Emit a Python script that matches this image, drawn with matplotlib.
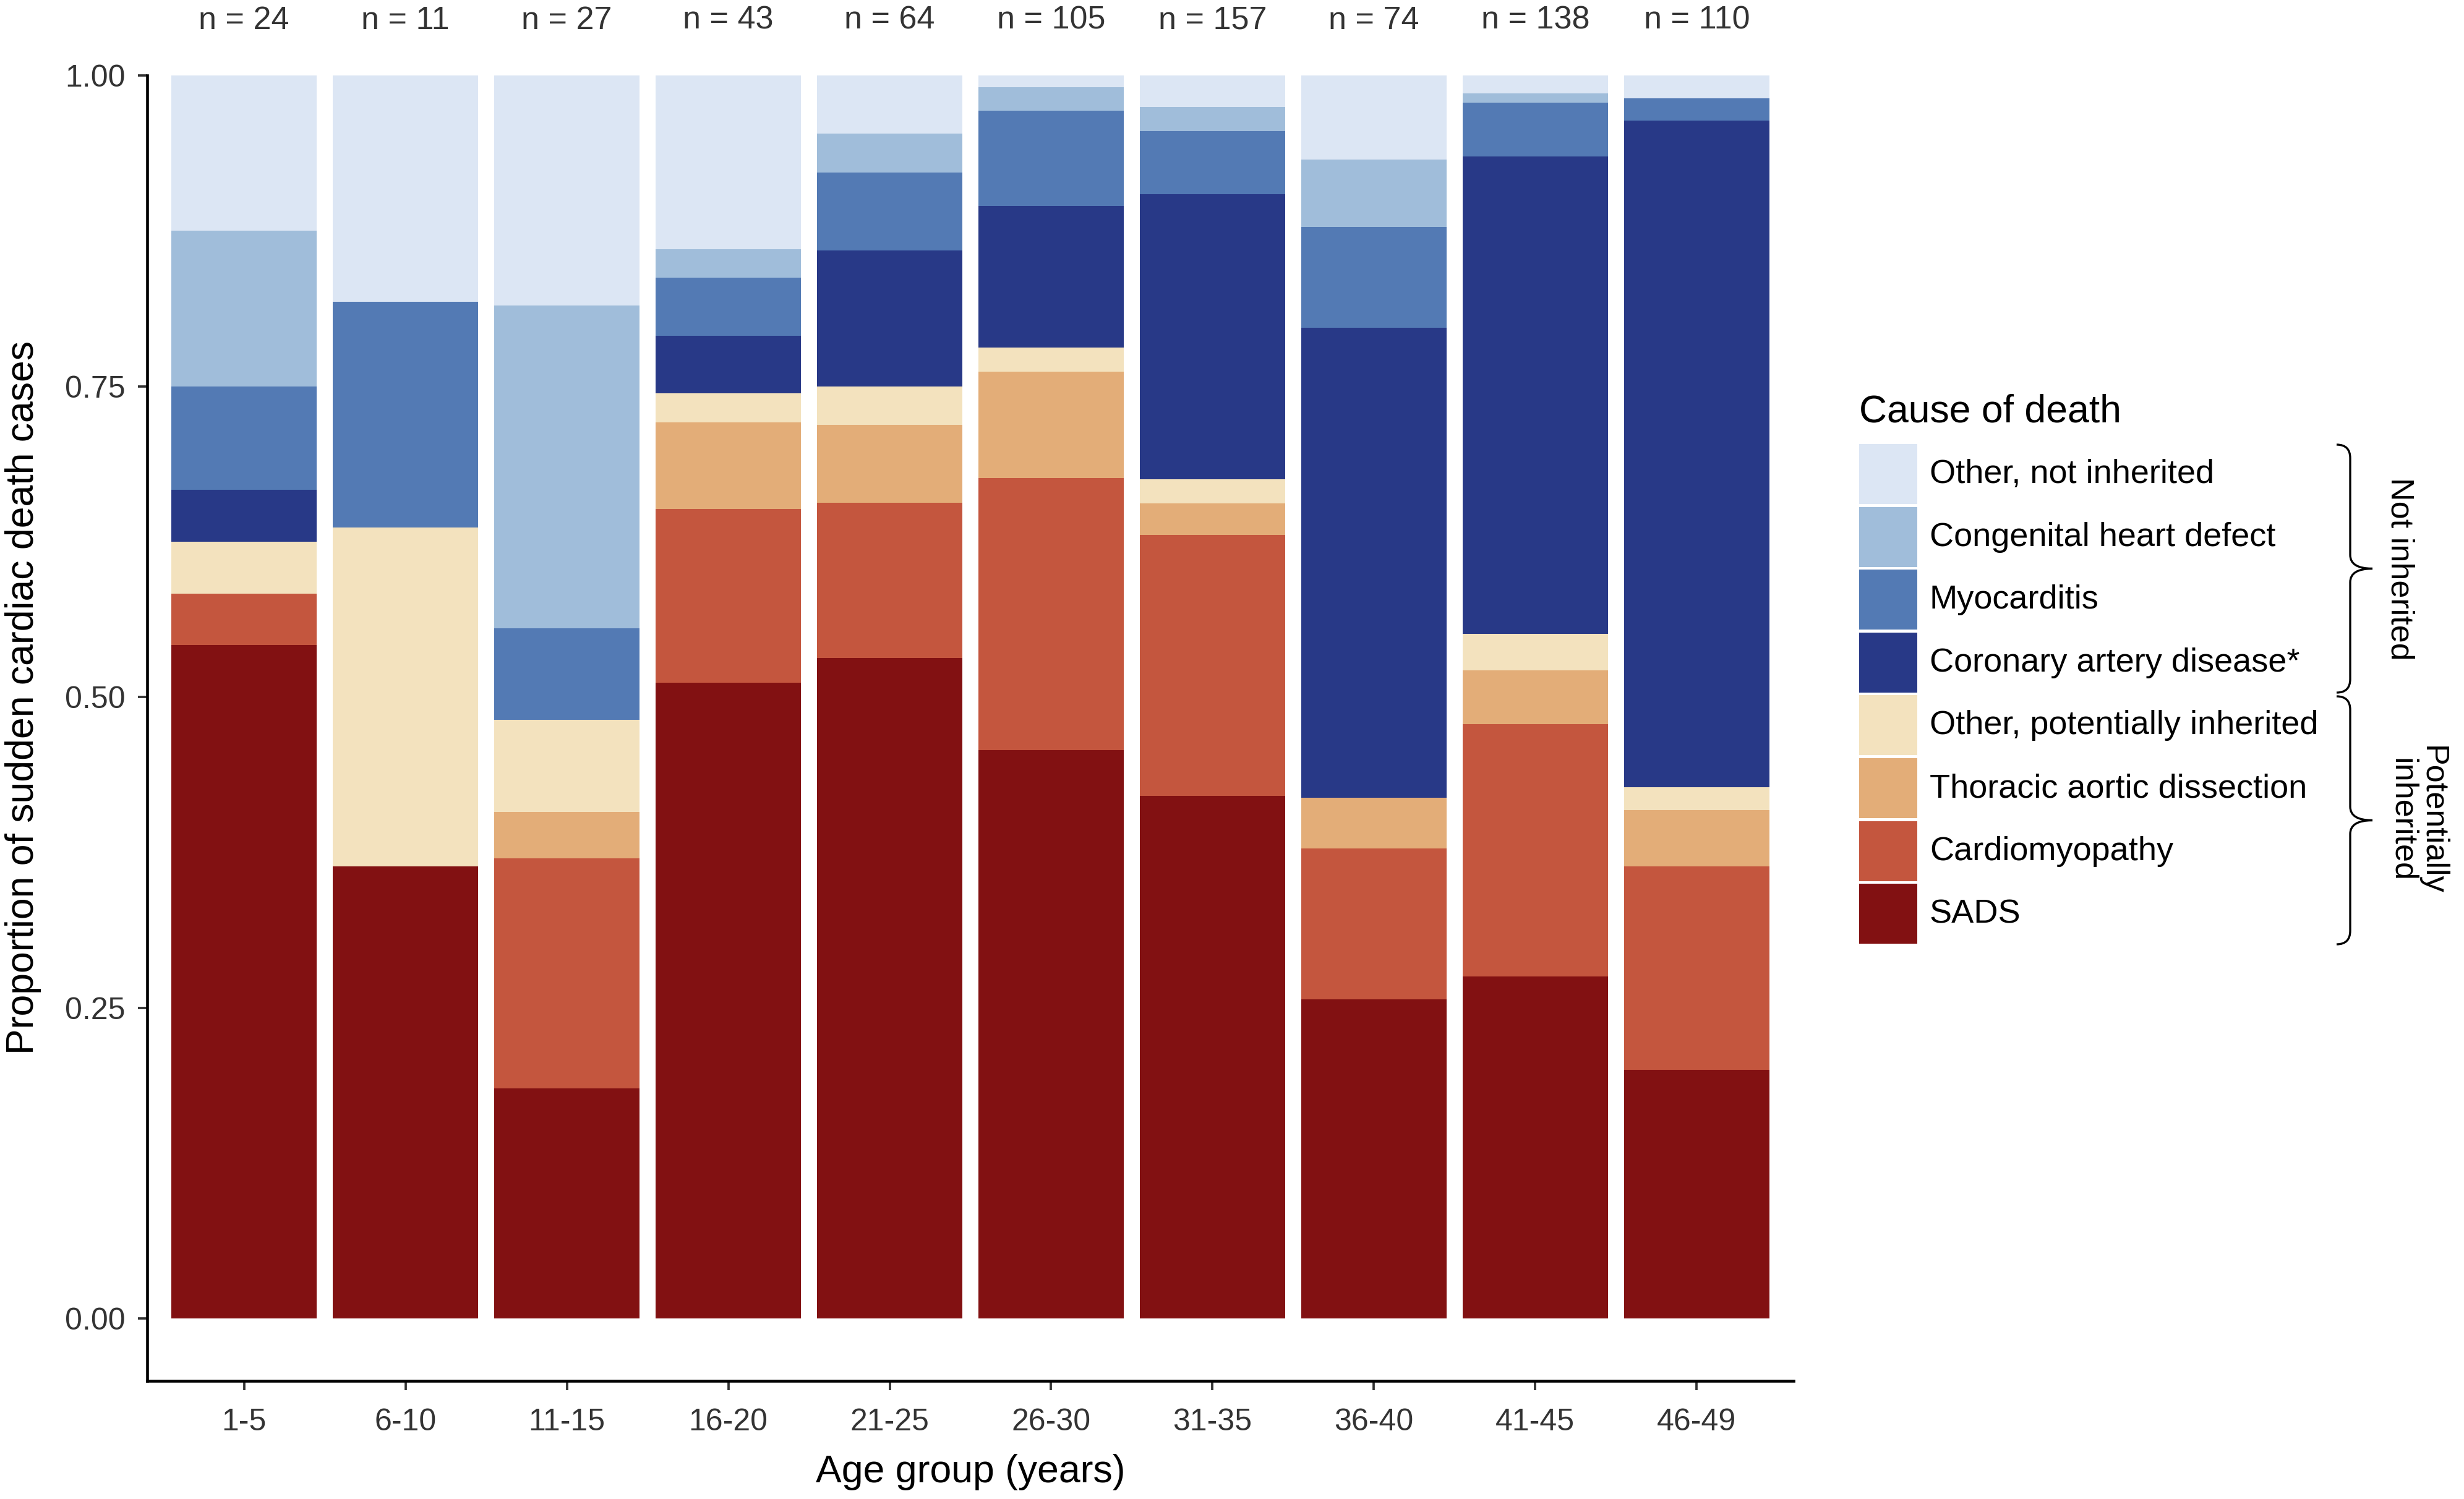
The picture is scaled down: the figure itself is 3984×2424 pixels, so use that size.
import matplotlib
matplotlib.use("Agg")
import matplotlib.pyplot as plt
import numpy as np
from matplotlib.patches import Rectangle, PathPatch
from matplotlib.path import Path

plt.rcParams['font.family'] = ['Liberation Sans', 'DejaVu Sans']

age_groups = ["1-5", "6-10", "11-15", "16-20", "21-25", "26-30", "31-35", "36-40", "41-45", "46-49"]
n_cases = [24, 11, 27, 43, 64, 105, 157, 74, 138, 110]

causes = ["SADS", "Cardiomyopathy", "Thoracic aortic dissection", "Other, potentially inherited",
          "Coronary artery disease*", "Myocarditis", "Congenital heart defect", "Other, not inherited"]
colors = ["#821112", "#C4563E", "#E3AD78", "#F3E2BE", "#283987", "#537AB4", "#A0BDDA", "#DCE6F4"]

sads          = [13, 4, 5, 22, 34, 48, 66, 19, 38, 22]
cardiomyo     = [1, 0, 5, 6, 8, 23, 33, 9, 28, 18]
thoracic      = [0, 0, 1, 3, 4, 9, 4, 3, 6, 5]
other_pot     = [1, 3, 2, 1, 2, 2, 3, 0, 4, 2]
cad           = [1, 0, 0, 2, 7, 12, 36, 28, 53, 59]
myocarditis   = [2, 2, 2, 2, 4, 8, 8, 6, 6, 2]
congenital    = [3, 0, 7, 1, 2, 2, 3, 4, 1, 0]
other_not     = [3, 2, 5, 6, 3, 1, 4, 5, 2, 2]

counts = np.array([sads, cardiomyo, thoracic, other_pot, cad, myocarditis, congenital, other_not], dtype=float)
props = counts / np.array(n_cases, dtype=float)

W, H = 3984, 2424
fig = plt.figure(figsize=(W / 300, H / 300), dpi=300)

def fx(px):
    return px / W

def fy(py):
    return 1 - py / H

ax = fig.add_axes([fx(238), fy(2233), fx(2900) - fx(238), fy(122) - fy(2233)])

x = np.arange(len(age_groups))
bottom = np.zeros(len(age_groups))
for i in range(len(causes)):
    ax.bar(x, props[i], bottom=bottom, width=0.9, color=colors[i], edgecolor='none', linewidth=0)
    bottom += props[i]

ax.set_xlim(-0.6, len(age_groups) - 0.4)
ax.set_ylim(-0.05, 1.0)
ax.set_yticks([0, 0.25, 0.5, 0.75, 1.0])
ax.set_yticklabels(["0.00", "0.25", "0.50", "0.75", "1.00"])
ax.set_xticks(x)
ax.set_xticklabels(age_groups)
for s in ["top", "right"]:
    ax.spines[s].set_visible(False)
for s in ["left", "bottom"]:
    ax.spines[s].set_linewidth(1.1)
ax.tick_params(axis='both', labelsize=12, colors='#333333', length=3.5, width=0.9, pad=5)
ax.tick_params(axis='x', pad=7)

# n labels above bars
for xi, n in zip(x, n_cases):
    ax.text(xi, 1.042, "n = %d" % n, transform=ax.get_xaxis_transform(), ha='center', va='center',
            fontsize=12.5, color='#333333', clip_on=False)

fig.text(fx(1569), fy(2380), "Age group (years)", ha='center', va='center', fontsize=15)
fig.text(fx(38), fy(1128), "Proportion of sudden cardiac death cases", ha='center', va='center',
         rotation=90, fontsize=15)

# legend (manual)
fig.text(fx(3006), fy(666), "Cause of death", ha='left', va='center', fontsize=15)
key_y0 = 767
pitch = 101.6
for j, i in enumerate(range(len(causes) - 1, -1, -1)):
    cy = key_y0 + j * pitch
    fig.patches.append(Rectangle((fx(3006), fy(cy + 48)), fx(94), fy(0) - fy(97),
                                 transform=fig.transFigure, facecolor=colors[i], edgecolor='none'))
    fig.text(fx(3120), fy(cy), causes[i], ha='left', va='center', fontsize=13)

def brace(top, bot, x0, hook=22, tip=36):
    mid = (top + bot) / 2
    pts = [(x0 - hook, top), (x0, top), (x0, top + hook),
           (x0, mid - hook), (x0, mid), (x0 + tip, mid),
           (x0, mid), (x0, mid + hook),
           (x0, bot - hook), (x0, bot), (x0 - hook, bot)]
    codes = [Path.MOVETO, Path.CURVE3, Path.CURVE3,
             Path.LINETO, Path.CURVE3, Path.CURVE3,
             Path.CURVE3, Path.CURVE3,
             Path.LINETO, Path.CURVE3, Path.CURVE3]
    verts = [(fx(a), fy(b)) for a, b in pts]
    fig.patches.append(PathPatch(Path(verts, codes), transform=fig.transFigure,
                                 facecolor='none', edgecolor='black', linewidth=0.8))

brace(719, 1120, 3800)
brace(1126, 1527, 3800)
fig.text(fx(3880), fy(920), "Not inherited", rotation=-90, ha='center', va='center', fontsize=12.5)
fig.text(fx(3908), fy(1326), "Potentially\ninherited", rotation=-90, ha='center', va='center',
         fontsize=12.5, multialignment='center', linespacing=1.0)

fig.savefig("out.png", dpi=300)
